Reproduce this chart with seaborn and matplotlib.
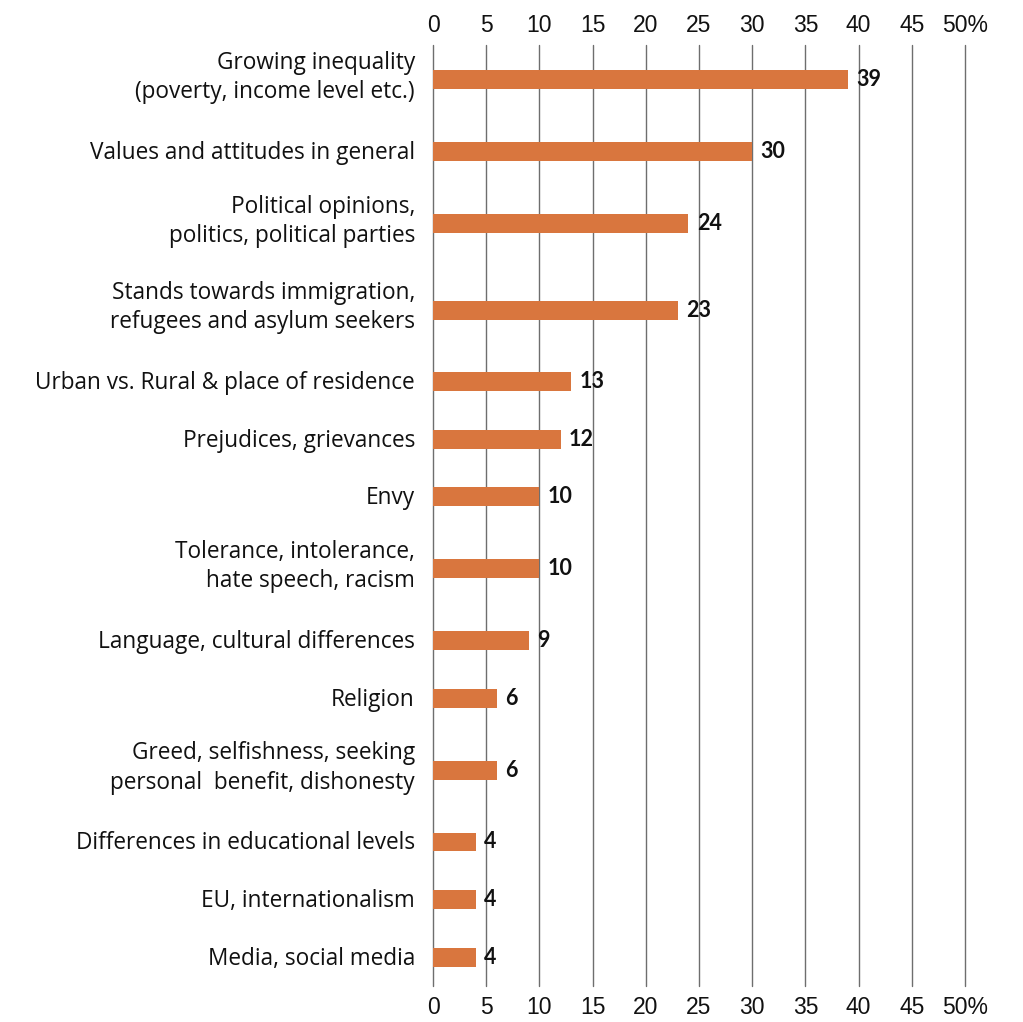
import numpy as np
import pandas as pd
import matplotlib
matplotlib.use("Agg")
import matplotlib.pyplot as plt
import matplotlib.transforms as mtransforms
import seaborn as sns

categories = [
    "Growing inequality\n(poverty, income level etc.)",
    "Values and attitudes in general",
    "Political opinions,\npolitics, political parties",
    "Stands towards immigration,\nrefugees and asylum seekers",
    "Urban vs. Rural & place of residence",
    "Prejudices, grievances",
    "Envy",
    "Tolerance, intolerance,\nhate speech, racism",
    "Language, cultural differences",
    "Religion",
    "Greed, selfishness, seeking\npersonal  benefit, dishonesty",
    "Differences in educational levels",
    "EU, internationalism",
    "Media, social media",
]
values = [39, 30, 24, 23, 13, 12, 10, 10, 9, 6, 6, 4, 4, 4]
tick_values = list(range(0, 51, 5))
tick_labels = [str(t) for t in tick_values[:-1]] + ["50%"]

BAR_COLOR = "#D9763E"
GRID_COLOR = "#6e6e6e"
TICK_FONT = ["Liberation Sans", "DejaVu Sans"]

sns.set_theme(style="white")
plt.rcParams["font.family"] = ["Open Sans", "DejaVu Sans"]

# slot heights derived from number of label lines (layout, not data)
slot = [1.5 if "\n" in c else 1.0 for c in categories]
pos = []
acc = 0.0
for i, s in enumerate(slot):
    if i == 0:
        acc = s / 2
    else:
        acc += slot[i - 1] / 2 + s / 2
    pos.append(acc)

df = pd.DataFrame({"pos": pos, "value": values, "label": categories})

fig = plt.figure(figsize=(10.23, 10.22), dpi=100)
ax = fig.add_axes([0.4233, 0.0352, 0.52, 0.9208])

sns.barplot(data=df, x="value", y="pos", orient="y", native_scale=True,
            color=BAR_COLOR, saturation=1, width=0.33, ax=ax, zorder=3)

for b in ax.patches:
    b.set_edgecolor("none")

ax.set_xlim(0, 50)
ax.set_ylim(pos[-1] + (986 - 957) / 57.5, pos[0] - (80 - 45) / 57.5)

for t in tick_values:
    ax.axvline(t, color=GRID_COLOR, lw=1.0, zorder=1, clip_on=False)

# bottom ticks
ax.set_xticks(tick_values)
ax.set_xticklabels(tick_labels, family=TICK_FONT, fontsize=16.5, color="#111111")
ax.tick_params(axis="x", which="both", top=False, bottom=False,
               labeltop=False, labelbottom=True, length=0, pad=7)

# top ticks
top = ax.secondary_xaxis("top")
top.set_xticks(tick_values)
top.set_xticklabels(tick_labels, family=TICK_FONT, fontsize=16.5, color="#111111")
top.tick_params(axis="x", length=0, pad=6)
for sp in top.spines.values():
    sp.set_visible(False)

ax.set_yticks(pos)
ax.set_yticklabels(categories, fontsize=16.3, color="#111111", ha="right",
                   linespacing=1.3)
ax.tick_params(axis="y", length=0, pad=13)

for sp in ax.spines.values():
    sp.set_visible(False)
ax.set_xlabel("")
ax.set_ylabel("")

# nudge labels slightly upward (two-line labels more)
for lab in ax.get_yticklabels():
    dy = 8 if "\n" in lab.get_text() else 1.5
    off = mtransforms.ScaledTranslation(0, dy / 100, fig.dpi_scale_trans)
    lab.set_transform(lab.get_transform() + off)

for c in ax.containers:
    ax.bar_label(c, labels=[str(v) for v in values], padding=6,
                 fontsize=15.5, fontweight="bold", color="#111111",
                 family=["Lato", "DejaVu Sans"])

fig.savefig("out.png", dpi=100)
